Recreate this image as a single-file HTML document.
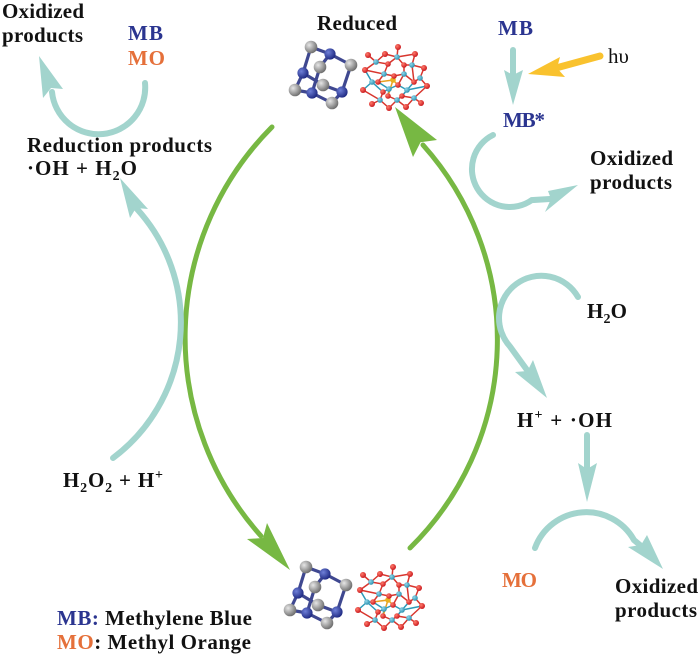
<!DOCTYPE html>
<html><head><meta charset="utf-8"><style>
html,body{margin:0;padding:0;background:#fff;}
svg{display:block;}
text{font-family:"Liberation Serif",serif;font-weight:bold;font-size:21px;fill:#111;}
.mb{fill:#2b3590;}
.mo{fill:#e5703a;}
</style></head><body>
<svg width="700" height="654" viewBox="0 0 700 654" xmlns="http://www.w3.org/2000/svg">
<defs>
<radialGradient id="gC" cx="0.35" cy="0.35" r="0.7"><stop offset="0" stop-color="#e6e6e6"/><stop offset="1" stop-color="#6a6a6a"/></radialGradient>
<radialGradient id="gN" cx="0.35" cy="0.35" r="0.7"><stop offset="0" stop-color="#6f80d8"/><stop offset="1" stop-color="#1c2780"/></radialGradient>
<radialGradient id="gO" cx="0.35" cy="0.35" r="0.7"><stop offset="0" stop-color="#ff7a6a"/><stop offset="1" stop-color="#c8161c"/></radialGradient>
<radialGradient id="gW" cx="0.35" cy="0.35" r="0.7"><stop offset="0" stop-color="#8fd6ea"/><stop offset="1" stop-color="#2a8fae"/></radialGradient>
<g id="hex">
 <g stroke="#3f4890" stroke-width="3.2" stroke-linecap="round">
  <line x1="330" y1="54" x2="311" y2="47"/><line x1="330" y1="54" x2="351" y2="65"/><line x1="330" y1="54" x2="320" y2="67"/>
  <line x1="303" y1="73" x2="311" y2="47"/><line x1="303" y1="73" x2="295" y2="90"/><line x1="303" y1="73" x2="323" y2="85"/>
  <line x1="312" y1="93" x2="295" y2="90"/><line x1="312" y1="93" x2="332" y2="103"/><line x1="312" y1="93" x2="320" y2="67"/>
  <line x1="342" y1="92" x2="351" y2="65"/><line x1="342" y1="92" x2="332" y2="103"/><line x1="342" y1="92" x2="323" y2="85"/>
 </g>
 <circle cx="311" cy="47" r="6.3" fill="url(#gC)"/><circle cx="351" cy="65" r="6.3" fill="url(#gC)"/>
 <circle cx="320" cy="67" r="6.3" fill="url(#gC)"/><circle cx="295" cy="90" r="6.3" fill="url(#gC)"/>
 <circle cx="330" cy="54" r="5.6" fill="url(#gN)"/><circle cx="303" cy="73" r="5.6" fill="url(#gN)"/>
 <circle cx="323" cy="85" r="6.3" fill="url(#gC)"/>
 <circle cx="312" cy="93" r="5.6" fill="url(#gN)"/><circle cx="342" cy="92" r="5.6" fill="url(#gN)"/>
 <circle cx="332" cy="103" r="6.3" fill="url(#gC)"/>
</g>
<g id="pom">
 <g stroke-width="1.5" stroke-linecap="round">
  <g stroke="#d8362e">
   <line x1="376" y1="62" x2="368" y2="55"/><line x1="376" y1="62" x2="385" y2="54"/><line x1="376" y1="62" x2="365" y2="70"/><line x1="376" y1="62" x2="388" y2="64"/>
   <line x1="397" y1="57" x2="385" y2="54"/><line x1="397" y1="57" x2="398" y2="47"/><line x1="397" y1="57" x2="415" y2="54"/><line x1="397" y1="57" x2="388" y2="64"/><line x1="397" y1="57" x2="404" y2="65"/>
   <line x1="412" y1="65" x2="415" y2="54"/><line x1="412" y1="65" x2="424" y2="68"/><line x1="412" y1="65" x2="404" y2="65"/><line x1="412" y1="65" x2="414" y2="82"/>
   <line x1="384" y1="74" x2="388" y2="64"/><line x1="384" y1="74" x2="394" y2="76"/><line x1="384" y1="74" x2="378" y2="82"/><line x1="384" y1="74" x2="365" y2="70"/>
   <line x1="404" y1="74" x2="404" y2="65"/><line x1="404" y1="74" x2="394" y2="76"/><line x1="404" y1="74" x2="414" y2="82"/><line x1="404" y1="74" x2="398" y2="85"/>
   <line x1="420" y1="78" x2="424" y2="68"/><line x1="420" y1="78" x2="427" y2="86"/><line x1="420" y1="78" x2="414" y2="82"/>
  </g>
  <g stroke="#2c9ab8">
   <line x1="372" y1="82" x2="365" y2="70"/><line x1="372" y1="82" x2="363" y2="90"/><line x1="372" y1="82" x2="378" y2="82"/><line x1="372" y1="82" x2="383" y2="92"/>
   <line x1="389" y1="89" x2="378" y2="82"/><line x1="389" y1="89" x2="398" y2="85"/><line x1="389" y1="89" x2="383" y2="92"/><line x1="389" y1="89" x2="388" y2="96"/>
   <line x1="407" y1="90" x2="398" y2="85"/><line x1="407" y1="90" x2="414" y2="82"/><line x1="407" y1="90" x2="402" y2="96"/><line x1="407" y1="90" x2="427" y2="86"/>
  </g>
  <g stroke="#d8362e">
   <line x1="380" y1="100" x2="363" y2="90"/><line x1="380" y1="100" x2="372" y2="104"/><line x1="380" y1="100" x2="383" y2="92"/><line x1="380" y1="100" x2="389" y2="108"/>
   <line x1="397" y1="100" x2="388" y2="96"/><line x1="397" y1="100" x2="402" y2="96"/><line x1="397" y1="100" x2="389" y2="108"/><line x1="397" y1="100" x2="406" y2="107"/>
   <line x1="414" y1="98" x2="402" y2="96"/><line x1="414" y1="98" x2="421" y2="103"/><line x1="414" y1="98" x2="406" y2="107"/><line x1="414" y1="98" x2="427" y2="86"/>
  </g>
  <g stroke="#e8a020">
   <line x1="393" y1="80" x2="394" y2="76"/><line x1="393" y1="80" x2="398" y2="85"/><line x1="393" y1="80" x2="388" y2="96"/><line x1="393" y1="80" x2="378" y2="82"/>
  </g>
 </g>
 <g fill="url(#gW)">
  <circle cx="376" cy="62" r="2.8"/><circle cx="397" cy="57" r="2.8"/><circle cx="412" cy="65" r="2.8"/>
  <circle cx="384" cy="74" r="2.8"/><circle cx="404" cy="74" r="2.8"/><circle cx="420" cy="78" r="2.8"/>
  <circle cx="372" cy="82" r="2.8"/><circle cx="389" cy="89" r="2.8"/><circle cx="407" cy="90" r="2.8"/>
  <circle cx="380" cy="100" r="2.8"/><circle cx="397" cy="100" r="2.8"/><circle cx="414" cy="98" r="2.8"/>
 </g>
 <circle cx="393" cy="80" r="2.8" fill="#e8b020"/>
 <g fill="url(#gO)">
  <circle cx="368" cy="55" r="3"/><circle cx="385" cy="54" r="3"/><circle cx="398" cy="47" r="3"/><circle cx="415" cy="54" r="3"/>
  <circle cx="424" cy="68" r="3"/><circle cx="427" cy="86" r="3"/><circle cx="421" cy="103" r="3"/><circle cx="406" cy="107" r="3"/>
  <circle cx="389" cy="108" r="3"/><circle cx="372" cy="104" r="3"/><circle cx="363" cy="90" r="3"/><circle cx="365" cy="70" r="3"/>
  <circle cx="388" cy="64" r="2.8"/><circle cx="404" cy="65" r="2.8"/><circle cx="394" cy="76" r="2.8"/><circle cx="378" cy="82" r="2.8"/>
  <circle cx="414" cy="82" r="2.8"/><circle cx="398" cy="85" r="2.8"/><circle cx="383" cy="92" r="2.8"/><circle cx="402" cy="96" r="2.8"/>
  <circle cx="388" cy="96" r="2.8"/>
 </g>
</g>
</defs>

<!-- molecules -->
<use href="#hex"/>
<use href="#pom"/>
<use href="#hex" transform="translate(-5,520)"/>
<use href="#pom" transform="translate(-5,520)"/>

<!-- green cycle arrows -->
<g fill="none" stroke="#77b843" stroke-width="5" stroke-linecap="round">
 <path d="M272,127 A298,298 0 0 0 261,536"/>
 <path d="M410,548 A292,292 0 0 0 423,145"/>
</g>
<g fill="#77b843">
 <polygon points="290,570 247,539 263,538 267,523"/>
 <polygon points="395,107 413,157 420.5,142.3 437,140"/>
</g>

<!-- teal arrows -->
<g fill="none" stroke="#a2d4cd" stroke-width="6" stroke-linecap="round">
 <path d="M145,83 A46,46 0 0 1 52,92"/>
 <path d="M113,458 A169,169 0 0 0 137,209"/>
 <path d="M513,50 L513,76"/>
 <path d="M493,135 A38,38 0 1 0 531.8,200.1 L550,199"/>
 <path d="M578,297 A42.3,42.3 0 1 0 510,346.5 L527,370"/>
 <path d="M587,435 L587,470"/>
 <path d="M535,548 A54.7,54.7 0 0 1 634,540 L640,545"/>
</g>
<g fill="#a2d4cd">
 <polygon points="39,56 43,98 51,88 63,89"/>
 <polygon points="120,178 130,218 136,208 148,209"/>
 <polygon points="513,105 504,70 513,75 523,70"/>
 <polygon points="578,185 548,191 551,199 545,212"/>
 <polygon points="547,398 515,372 527.5,371 533,360"/>
 <polygon points="587,502 578,463 587,469 597,463"/>
 <polygon points="663,569 628,547 641,545 647,535"/>
</g>

<!-- yellow hv arrow -->
<path d="M600,56 L556,68" stroke="#f9c22e" stroke-width="7" stroke-linecap="round" fill="none"/>
<polygon points="528,74 560,57 557,68 565,77" fill="#f9c22e"/>

<!-- texts -->
<text x="2" y="18" textLength="82" lengthAdjust="spacing">Oxidized</text>
<text x="2" y="42" textLength="81" lengthAdjust="spacing">products</text>
<text x="128" y="40" class="mb" textLength="35" lengthAdjust="spacing">MB</text>
<text x="128" y="65" class="mo" textLength="37" lengthAdjust="spacing">MO</text>
<text x="27" y="152" textLength="185" lengthAdjust="spacing">Reduction products</text>
<text x="27" y="175" textLength="110" lengthAdjust="spacing">·OH + H<tspan font-size="14" dy="5">2</tspan><tspan dy="-5">O</tspan></text>

<text x="317" y="30" textLength="80" lengthAdjust="spacing">Reduced</text>

<text x="498" y="35" class="mb" textLength="35" lengthAdjust="spacing">MB</text>
<text x="608" y="63" style="font-weight:normal">hυ</text>
<text x="503" y="127" class="mb" textLength="42" lengthAdjust="spacing">MB*</text>
<text x="590" y="165" textLength="83" lengthAdjust="spacing">Oxidized</text>
<text x="590" y="189" textLength="82" lengthAdjust="spacing">products</text>

<text x="587" y="318" textLength="40" lengthAdjust="spacing">H<tspan font-size="14" dy="5">2</tspan><tspan dy="-5">O</tspan></text>
<text x="517" y="427" textLength="95" lengthAdjust="spacing">H<tspan font-size="14" dy="-8">+</tspan><tspan dy="8"> + ·OH</tspan></text>

<text x="502" y="587" class="mo" textLength="35" lengthAdjust="spacing">MO</text>
<text x="615" y="593" textLength="83" lengthAdjust="spacing">Oxidized</text>
<text x="615" y="617" textLength="82" lengthAdjust="spacing">products</text>

<text x="63" y="487" textLength="100" lengthAdjust="spacing">H<tspan font-size="14" dy="5">2</tspan><tspan dy="-5">O</tspan><tspan font-size="14" dy="5">2</tspan><tspan dy="-5"> + H</tspan><tspan font-size="14" dy="-8">+</tspan></text>

<text x="57" y="625" textLength="195" lengthAdjust="spacing"><tspan class="mb">MB:</tspan> Methylene Blue</text>
<text x="57" y="649" textLength="194" lengthAdjust="spacing"><tspan class="mo">MO</tspan>: Methyl Orange</text>
</svg>
</body></html>
